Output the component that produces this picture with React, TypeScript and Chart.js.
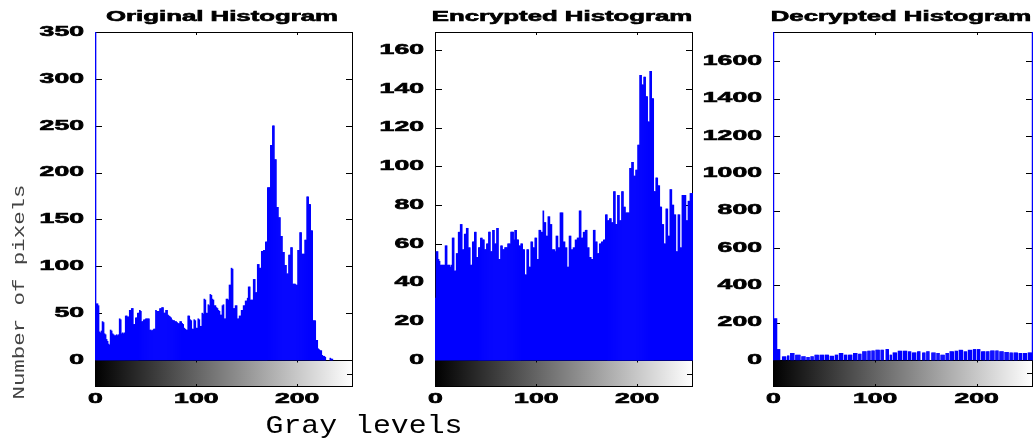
import React, { useEffect, useRef } from "react";
import { Chart, registerables } from "chart.js";

Chart.register(...registerables);

const W = 1034;
const H = 444;

// ---- data ----
const grayLevels: number[] = Array.from({ length: 256 }, (_, i) => i);
const xTickValues = [0, 100, 200];

const originalCounts = [
  420, 60, 60, 58, 30, 29, 31, 41, 40, 28, 27, 22, 20, 17, 16, 32,
  31, 28, 27, 26, 26, 27, 26, 27, 44, 43, 28, 29, 28, 29, 47, 47,
  46, 46, 53, 53, 55, 55, 38, 38, 45, 45, 50, 50, 53, 52, 41, 41,
  43, 43, 44, 44, 44, 44, 32, 32, 31, 32, 33, 33, 53, 52, 52, 52,
  55, 55, 56, 56, 50, 50, 53, 53, 48, 47, 46, 45, 43, 42, 42, 41,
  41, 40, 39, 39, 41, 41, 39, 38, 34, 33, 32, 32, 47, 47, 43, 42,
  33, 33, 43, 42, 34, 34, 44, 43, 36, 36, 50, 49, 65, 64, 50, 50,
  59, 58, 70, 69, 65, 64, 58, 58, 56, 55, 53, 52, 48, 48, 58, 59,
  44, 44, 65, 65, 64, 80, 80, 98, 97, 55, 55, 58, 58, 44, 44, 47,
  47, 53, 53, 58, 58, 63, 63, 66, 78, 78, 64, 64, 64, 86, 86, 72,
  72, 102, 102, 98, 98, 116, 116, 117, 117, 126, 126, 184, 184, 184, 229, 229,
  250, 250, 214, 214, 163, 163, 152, 152, 132, 132, 115, 115, 101, 101, 92, 92,
  112, 112, 120, 120, 81, 81, 81, 80, 80, 117, 117, 136, 136, 113, 113, 113,
  128, 128, 174, 174, 166, 166, 138, 138, 42, 42, 42, 21, 21, 12, 11, 10,
  10, 5, 4, 4, 3, 0, 0, 0, 0, 2, 1, 1, 0, 0, 0, 0,
  0, 0, 0, 0, 0, 0, 0, 0, 0, 0, 0, 0, 0, 0, 0, 0,
];

const encryptedCounts = [
  32, 56, 56, 52, 51, 49, 49, 49, 49, 49, 59, 59, 49, 49, 49, 48,
  49, 63, 63, 46, 46, 55, 55, 66, 66, 70, 70, 57, 57, 65, 65, 68,
  68, 58, 58, 49, 49, 61, 61, 66, 66, 53, 53, 58, 58, 63, 63, 62,
  62, 57, 57, 60, 60, 66, 66, 56, 56, 67, 67, 60, 60, 68, 68, 52,
  52, 59, 59, 57, 57, 58, 58, 58, 60, 60, 60, 66, 66, 66, 62, 67,
  67, 62, 62, 59, 59, 60, 60, 57, 57, 44, 44, 57, 57, 48, 48, 61,
  61, 58, 58, 63, 63, 52, 52, 67, 67, 66, 66, 77, 71, 71, 64, 64,
  74, 74, 70, 70, 57, 57, 57, 56, 64, 64, 58, 58, 76, 76, 76, 61,
  61, 58, 58, 48, 48, 64, 64, 57, 57, 58, 58, 62, 62, 63, 63, 77,
  77, 63, 63, 66, 66, 67, 67, 58, 58, 53, 53, 52, 52, 67, 67, 61,
  61, 55, 55, 60, 60, 61, 61, 62, 62, 75, 75, 72, 72, 73, 73, 71,
  71, 87, 87, 70, 70, 85, 85, 72, 72, 87, 87, 79, 79, 76, 76, 76,
  76, 99, 99, 102, 102, 95, 95, 98, 98, 111, 111, 147, 147, 142, 142, 146,
  146, 136, 136, 123, 123, 149, 149, 135, 135, 87, 87, 94, 94, 90, 90, 79,
  79, 70, 70, 60, 60, 78, 78, 64, 64, 88, 88, 80, 80, 75, 75, 56,
  56, 75, 75, 58, 58, 85, 85, 85, 85, 72, 72, 82, 82, 86, 86, 86,
];

const decryptedCounts = [
  2000, 222, 222, 222, 57, 57, 57, 0, 0, 18, 18, 18, 18, 0, 23, 23,
  0, 36, 36, 36, 36, 0, 27, 27, 27, 27, 27, 0, 18, 18, 18, 18,
  0, 14, 14, 14, 0, 18, 18, 18, 0, 27, 27, 27, 27, 0, 27, 27,
  27, 27, 0, 27, 27, 27, 27, 0, 21, 21, 21, 21, 0, 27, 27, 27,
  0, 36, 36, 36, 36, 0, 27, 27, 27, 0, 27, 27, 27, 27, 0, 36,
  36, 36, 36, 0, 32, 32, 32, 0, 45, 45, 45, 45, 0, 48, 48, 48,
  0, 50, 50, 50, 0, 53, 53, 53, 53, 0, 53, 53, 53, 0, 0, 57,
  57, 57, 0, 27, 27, 0, 39, 39, 39, 39, 0, 48, 48, 48, 48, 0,
  48, 48, 48, 48, 0, 45, 45, 45, 0, 39, 39, 39, 39, 0, 45, 45,
  45, 0, 0, 39, 39, 39, 0, 45, 45, 45, 0, 0, 39, 39, 39, 39,
  0, 36, 36, 36, 0, 27, 27, 27, 27, 0, 36, 36, 36, 0, 45, 45,
  45, 45, 0, 48, 48, 48, 0, 53, 53, 53, 53, 0, 45, 45, 45, 0,
  53, 53, 53, 53, 0, 57, 57, 57, 0, 57, 57, 57, 0, 45, 45, 45,
  45, 0, 45, 45, 45, 0, 50, 50, 50, 50, 0, 50, 50, 50, 0, 45,
  45, 45, 45, 0, 41, 41, 41, 41, 0, 39, 39, 39, 0, 39, 39, 39,
  39, 0, 36, 36, 36, 0, 36, 36, 36, 36, 0, 39, 39, 39, 39, 2000,
];

const originalYTicks = [0, 50, 100, 150, 200, 250, 300, 350];
const encryptedYTicks = [0, 20, 40, 60, 80, 100, 120, 140, 160];
const decryptedYTicks = [0, 200, 400, 600, 800, 1000, 1200, 1400, 1600];

const panelTitles = ["Original Histogram", "Encrypted Histogram", "Decrypted Histogram"];
const yAxisTitle = "Number of pixels";
const xAxisTitle = "Gray levels";

// ---- layout ----
const PLOT_TOP = 32;
const PLOT_BOTTOM = 387;

const panels = [
  { title: panelTitles[0], counts: originalCounts, yTicks: originalYTicks, left: 95, right: 353, yMin: -28.8, yMax: 350, inflate: "auto" },
  { title: panelTitles[1], counts: encryptedCounts, yTicks: encryptedYTicks, left: 435, right: 693, yMin: -13.9, yMax: 169.3, inflate: "auto" },
  { title: panelTitles[2], counts: decryptedCounts, yTicks: decryptedYTicks, left: 773, right: 1033, yMin: -145, yMax: 1757, inflate: 0.22 },
];

const BOLD_FONT = "bold 14px 'Liberation Sans', Arial, sans-serif";
const MONO_FONT_FAMILY = "'Liberation Mono', 'DejaVu Sans Mono', monospace";

type TextOpts = {
  font: string;
  color: string;
  align: CanvasTextAlign;
  baseline: CanvasTextBaseline;
  sx?: number;
  fitWidth?: number;
  rotate?: number;
  strokeW?: number;
};

function drawText(ctx: CanvasRenderingContext2D, text: string, x: number, y: number, o: TextOpts) {
  ctx.save();
  ctx.font = o.font;
  ctx.fillStyle = o.color;
  ctx.strokeStyle = o.color;
  ctx.textAlign = o.align;
  ctx.textBaseline = o.baseline;
  let sx = o.sx ?? 1;
  if (o.fitWidth) {
    const w = ctx.measureText(text).width;
    if (w > 0) sx = o.fitWidth / w;
  }
  ctx.translate(x, y);
  if (o.rotate) ctx.rotate(o.rotate);
  ctx.scale(sx, 1);
  ctx.fillText(text, 0, 0);
  if (o.strokeW) {
    ctx.lineWidth = o.strokeW;
    ctx.strokeText(text, 0, 0);
  }
  ctx.restore();
}

function makeDecor(p: any, withAxisTitles: boolean) {
  return {
    id: "decor",
    beforeDatasetsDraw(chart: any) {
      const { ctx, chartArea: a, scales } = chart;
      const xs = scales.x;
      const ys = scales.y;
      const y0 = ys.getPixelForValue(0);
      ctx.save();
      const g = ctx.createLinearGradient(a.left, 0, a.right, 0);
      g.addColorStop(0, "#000000");
      g.addColorStop(1, "#ffffff");
      ctx.fillStyle = g;
      ctx.fillRect(a.left, y0, a.right - a.left, a.bottom - y0);

      ctx.strokeStyle = "#000000";
      ctx.lineWidth = 1;
      ctx.strokeRect(a.left + 0.5, a.top + 0.5, a.right - a.left - 1, a.bottom - a.top - 1);
      ctx.beginPath();
      const yz = Math.round(y0) + 0.5;
      ctx.moveTo(a.left, yz);
      ctx.lineTo(a.right, yz);
      for (const v of p.yTicks) {
        const py = Math.round(ys.getPixelForValue(v)) + 0.5;
        ctx.moveTo(a.left, py);
        ctx.lineTo(a.left + 7, py);
        ctx.moveTo(a.right, py);
        ctx.lineTo(a.right - 7, py);
      }
      for (const v of xTickValues) {
        if (v === 0) continue;
        const px = Math.round(xs.getPixelForValue(v)) + 0.5;
        ctx.moveTo(px, a.top);
        ctx.lineTo(px, a.top + 3);
        ctx.moveTo(px, yz);
        ctx.lineTo(px, yz + 2);
        ctx.moveTo(px, a.bottom);
        ctx.lineTo(px, a.bottom - 3);
      }
      const ym = Math.round((y0 + a.bottom) / 2) + 0.5;
      ctx.moveTo(a.right, ym);
      ctx.lineTo(a.right - 6, ym);
      ctx.stroke();
      ctx.restore();
    },
    afterDraw(chart: any) {
      const { ctx, chartArea: a, scales } = chart;
      const xs = scales.x;
      const ys = scales.y;
      drawText(ctx, p.title, (a.left + a.right) / 2 - 2, 21, {
        font: BOLD_FONT, color: "#000", align: "center", baseline: "alphabetic", sx: 1.84, strokeW: 0.6,
      });
      for (const v of p.yTicks) {
        drawText(ctx, String(v), a.left - 11, ys.getPixelForValue(v), {
          font: BOLD_FONT, color: "#000", align: "right", baseline: "middle", sx: 1.9, strokeW: 0.6,
        });
      }
      for (const v of xTickValues) {
        drawText(ctx, String(v), xs.getPixelForValue(v), 399, {
          font: BOLD_FONT, color: "#000", align: "center", baseline: "middle", sx: 1.9, strokeW: 0.6,
        });
      }
      if (withAxisTitles) {
        drawText(ctx, xAxisTitle, 364, 433, {
          font: `25px ${MONO_FONT_FAMILY}`, color: "#000", align: "center", baseline: "alphabetic", fitWidth: 197,
        });
        drawText(ctx, yAxisTitle, 24, 292, {
          font: `17px ${MONO_FONT_FAMILY}`, color: "#444", align: "center", baseline: "alphabetic",
          fitWidth: 215, rotate: -Math.PI / 2,
        });
      }
    },
  };
}

function HistogramPanel({ panel, withAxisTitles }: { panel: any; withAxisTitles: boolean }) {
  const ref = useRef<HTMLCanvasElement | null>(null);
  useEffect(() => {
    const canvas = ref.current;
    if (!canvas) return;
    const chart = new Chart(canvas, {
      type: "bar",
      data: {
        datasets: [
          {
            // empty bins are left undrawn (no zero-height sliver on the baseline)
            data: panel.counts.map((c: number, i: number) => ({ x: grayLevels[i], y: c === 0 ? null : c })),
            backgroundColor: "#0000ff",
            borderWidth: 0,
            barPercentage: 1,
            categoryPercentage: 1,
            inflateAmount: panel.inflate,
            clip: 0,
          } as any,
        ],
      },
      options: {
        responsive: false,
        animation: false,
        devicePixelRatio: 1,
        events: [],
        layout: {
          padding: { left: panel.left, right: W - panel.right, top: PLOT_TOP, bottom: H - PLOT_BOTTOM },
        },
        plugins: {
          legend: { display: false },
          tooltip: { enabled: false },
          title: { display: false },
        },
        scales: {
          x: { type: "linear", min: -0.5, max: 255.5, offset: false, display: false },
          y: { type: "linear", min: panel.yMin, max: panel.yMax, display: false },
        },
      } as any,
      plugins: [makeDecor(panel, withAxisTitles)],
    });
    return () => chart.destroy();
  }, []);
  return (
    <canvas
      ref={ref}
      width={W}
      height={H}
      style={{ position: "absolute", left: 0, top: 0, width: W, height: H }}
    />
  );
}

export default function App() {
  return (
    <div style={{ position: "fixed", left: 0, top: 0, width: W, height: H, background: "#ffffff", overflow: "hidden" }}>
      {panels.map((p, i) => (
        <HistogramPanel key={i} panel={p} withAxisTitles={i === 0} />
      ))}
    </div>
  );
}
